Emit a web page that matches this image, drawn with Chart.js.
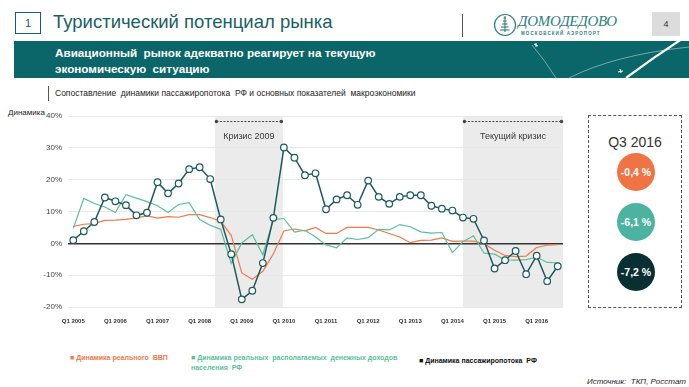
<!DOCTYPE html>
<html><head><meta charset="utf-8">
<script src="https://cdn.jsdelivr.net/npm/chart.js@4"></script>
<style>
body{margin:0;width:689px;height:387px;overflow:hidden;background:#fff;font-family:'Liberation Sans',Arial,sans-serif;position:relative}
.a{position:absolute;white-space:nowrap}
.circ{position:absolute;width:38px;height:38px;border-radius:50%;color:#fff;font-weight:bold;font-size:10.5px;line-height:38px;text-align:center}
</style></head><body>

<!-- header -->
<div class="a" style="left:15px;top:12px;width:26px;height:22px;border:1px solid #1b5e63;box-sizing:border-box;color:#1b5e63;font-size:11px;line-height:20px;text-align:center">1</div>
<div class="a" style="left:53px;top:10px;font-size:18.5px;line-height:24px;color:#1b5e63">Туристический потенциал рынка</div>
<div class="a" style="left:462px;top:14px;width:1px;height:23px;background:#555"></div>
<svg class="a" style="left:493px;top:13px" width="24" height="24" viewBox="0 0 24 24">
  <circle cx="12" cy="12" r="10.5" fill="none" stroke="#2f7f80" stroke-width="1.2"/>
  <g stroke="#2f7f80" stroke-width="1.1">
    <line x1="10.5" y1="5" x2="13" y2="5"/><line x1="10" y1="8" x2="13.5" y2="8"/>
    <line x1="9" y1="11" x2="14.5" y2="11"/><line x1="8" y1="14" x2="15.5" y2="14"/>
    <line x1="7" y1="17" x2="16.5" y2="17"/><line x1="12" y1="3" x2="12" y2="19"/>
  </g>
</svg>
<div class="a" style="left:518px;top:13px;font-family:'Liberation Serif',serif;font-style:italic;font-size:15px;line-height:17px;color:#2f7f80;letter-spacing:-0.3px">ДОМОДЕДОВО</div>
<div class="a" style="left:521px;top:31px;font-size:4.5px;font-weight:bold;letter-spacing:1.1px;color:#2f7f80">МОСКОВСКИЙ АЭРОПОРТ</div>
<div class="a" style="left:652px;top:12px;width:28px;height:24px;background:#dcdcdc;font-size:9px;line-height:24px;text-align:center;color:#333">4</div>

<div class="a" style="left:14px;top:41px;width:675px;height:37px;background:#0a6668;overflow:hidden">
  <svg style="position:absolute;left:0;top:0" width="675" height="37">
    <path d="M518 4 Q530 18 542 37" stroke="rgba(255,255,255,0.55)" stroke-width="0.8" fill="none"/>
    <path d="M555 37 Q600 14 675 6" stroke="rgba(255,255,255,0.55)" stroke-width="0.8" fill="none"/>
    <path d="M612 37 Q640 16 668 -2" stroke="#fff" stroke-width="2.2" fill="none"/>
    <path d="M520 3 l4 2 m-2 -3 l0 4" stroke="#fff" stroke-width="1" fill="none"/>
    <path d="M604 31 l5 -1 m-3 -2 l1 4" stroke="#fff" stroke-width="1" fill="none"/>
  </svg>
  <div class="a" style="left:41px;top:4px;font-weight:bold;font-size:11.7px;line-height:16px;color:#fff">Авиационный&nbsp; рынок адекватно реагирует на текущую<br>экономическую&nbsp; ситуацию</div>
</div>

<div class="a" style="left:48px;top:86px;width:1px;height:15px;background:#555"></div>
<div class="a" style="left:55px;top:88px;font-size:8.5px;line-height:10px;color:#222">Сопоставление&nbsp; динамики пассажиропотока&nbsp; РФ и основных показателей&nbsp; макроэкономики</div>

<div class="a" style="left:8px;top:108px;font-size:8px;line-height:10px;color:#222">Динамика</div>

<div class="a" style="left:0;top:100px;width:570px;height:225px"><canvas id="c" width="570" height="225"></canvas></div>

<!-- legend -->
<div class="a" style="left:70px;top:353px;font-size:7px;font-weight:bold;line-height:9px;color:#ef7a4a">■ Динамика реального&nbsp; ВВП</div>
<div class="a" style="left:191px;top:353px;font-size:7px;font-weight:bold;line-height:9.5px;color:#5bbf9e">■ Динамика реальных&nbsp; располагаемых&nbsp; денежных доходов<br>населения&nbsp; РФ</div>
<div class="a" style="left:419px;top:356px;font-size:7px;font-weight:bold;line-height:9px;color:#111">■ Динамика пассажиропотока&nbsp; РФ</div>
<div class="a" style="right:3px;top:377px;font-size:8px;font-style:italic;line-height:10px;color:#222">Источник:&nbsp; ТКП, Росстат</div>

<!-- right panel -->
<div class="a" style="left:588px;top:115px;width:94px;height:193px;border:1px dashed #555;box-sizing:border-box"></div>
<div class="a" style="left:588px;top:133px;width:94px;text-align:center;font-size:14px;line-height:18px;color:#333">Q3 2016</div>
<div id="circles"></div>

<script>
const years = [2005,2006,2007,2008,2009,2010,2011,2012,2013,2014,2015,2016];
const categories = [];
years.forEach(y => ['Q1','Q2','Q3','Q4'].forEach(q => { if (!(y === 2016 && q === 'Q4')) categories.push(q + ' ' + y); }));

// % change y/y
const gdpGrowth = [5.3,6.0,6.2,7.2, 7.3,7.5,8.0,8.6, 7.9,8.4,8.2,9.0, 9.0,8.1,6.9,2.5,
  -9.3,-11.3,-8.8,-3.3, 3.9,4.5,3.9,5.0, 3.1,3.1,5.0,5.0, 5.0,4.2,3.1,2.0,
  0.2,0.9,1.0,1.7, 0.6,0.7,0.7,-0.1, -2.2,-3.8,-4.2,-4.0, -1.3,-0.6,-0.4];
const incomeGrowth = [4.7,14.1,12.5,11.4, 9.7,15.3,14.2,13.1, 11.8,9.7,12.2,12.8, 7.5,5.7,4.4,-6.3,
  0.1,2.7,-3.6,7.5, 7.8,3.5,4.1,2.0, -0.5,-1.4,1.7,1.2, 1.8,4.4,4.2,5.9,
  5.2,3.6,3.2,3.4, -2.9,0.5,2.4,-3.1, -3.4,-5.2,-5.3,-5.1, -4.3,-6.0,-6.1];
const paxGrowth = [1.0,3.8,6.7,14.4, 13.2,12.0,8.8,9.6, 19.2,15.7,18.8,23.3, 23.9,20.2,7.5,-3.4,
  -17.6,-14.9,-6.2,8.0, 30.1,26.9,21.4,22.0, 10.7,13.8,15.1,12.1, 19.7,14.6,12.4,14.6,
  15.1,15.1,11.8,10.9, 10.3,8.1,7.7,0.9, -7.9,-5.3,-2.4,-9.7, -3.9,-11.9,-7.2];
const yTicks = [-20,-10,0,10,20,30,40];
// crisis periods in quarter-index units
const crisisNames = ['Кризис 2009','Текущий кризис'];
const crisisStart = [13.45, 37.0];
const crisisEnd = [19.9, 46.5];
const seriesColors = ['#ef7444','#4bb3a0','#0a2f32'];

const FONT = "'Liberation Sans', Arial, sans-serif";

const crisisPlugin = {
  id: 'crisis',
  beforeDraw(chart) {
    const {ctx, chartArea: a, scales: {x}} = chart;
    ctx.save();
    ctx.fillStyle = '#ebebeb';
    crisisStart.forEach((s, i) => {
      const x0 = x.getPixelForValue(s), x1 = x.getPixelForValue(crisisEnd[i]);
      ctx.fillRect(x0, a.top, x1 - x0, a.bottom - a.top);
    });
    ctx.restore();
  },
  beforeDatasetsDraw(chart) {
    const {ctx, scales: {x, y}} = chart;
    ctx.save();
    crisisStart.forEach((s, i) => {
      const x0 = x.getPixelForValue(s) + 1.5, x1 = x.getPixelForValue(crisisEnd[i]) - 1.5;
      const yl = Math.round(y.getPixelForValue(38.3)) + 0.5;
      ctx.strokeStyle = '#444'; ctx.lineWidth = 1; ctx.setLineDash([2, 1.5]);
      ctx.beginPath(); ctx.moveTo(x0, yl); ctx.lineTo(x1, yl); ctx.stroke();
      ctx.setLineDash([]); ctx.fillStyle = '#444';
      [x0, x1].forEach(px => { ctx.beginPath(); ctx.arc(px, yl, 1.7, 0, Math.PI * 2); ctx.fill(); });
      ctx.fillStyle = '#3a3a3a'; ctx.font = '9px ' + FONT;
      ctx.textAlign = 'center'; ctx.textBaseline = 'middle';
      ctx.fillText(crisisNames[i], (x0 + x1) / 2, y.getPixelForValue(33.5));
    });
    ctx.restore();
  }
};

new Chart(document.getElementById('c'), {
  type: 'line',
  data: {
    labels: categories,
    datasets: [
      { label: 'Динамика пассажиропотока РФ', data: paxGrowth, borderColor: '#1c5a5e', borderWidth: 1.5,
        pointRadius: 3.3, pointBackgroundColor: '#fff', pointBorderColor: '#1c5a5e', pointBorderWidth: 1.2, tension: 0 },
      { label: 'Динамика реальных располагаемых денежных доходов населения РФ', data: incomeGrowth,
        borderColor: '#5bbf9e', borderWidth: 1.2, pointRadius: 0, tension: 0 },
      { label: 'Динамика реального ВВП', data: gdpGrowth, borderColor: '#f07a4c', borderWidth: 1.2, pointRadius: 0, tension: 0 }
    ]
  },
  options: {
    responsive: false, animation: false, devicePixelRatio: 1,
    layout: { padding: { top: 16, right: 7, left: 0, bottom: 0 } },
    plugins: { legend: { display: false }, tooltip: { enabled: false } },
    scales: {
      x: {
        offset: true,
        afterFit: s => { s.height = 18; },
        grid: { display: false },
        border: { display: false },
        ticks: { autoSkip: false, maxRotation: 0, minRotation: 0, padding: 3, color: '#333',
          font: { size: 6, family: FONT, weight: 'bold' },
          callback: function (v, i) { return i % 4 === 0 ? this.getLabelForValue(v) : ''; } }
      },
      y: {
        min: -20, max: 40,
        afterFit: s => { s.width = 68; },
        afterBuildTicks: s => { s.ticks = yTicks.map(v => ({ value: v })); },
        border: { display: false },
        grid: { drawTicks: false, color: c => c.tick && c.tick.value === 0 ? '#333' : '#e8e8e8',
          lineWidth: c => c.tick && c.tick.value === 0 ? 1.6 : 1 },
        ticks: { padding: 6, color: '#444', font: { size: 8, family: FONT },
          callback: v => v + '%' }
      }
    }
  },
  plugins: [crisisPlugin]
});

// Q3 2016 circles from the last values
const lastValues = [gdpGrowth, incomeGrowth, paxGrowth].map(s => s[s.length - 1]);
const host = document.getElementById('circles');
lastValues.forEach((v, i) => {
  const d = document.createElement('div');
  d.className = 'circ';
  d.style.left = '617px';
  d.style.top = (153 + i * 50) + 'px';
  d.style.background = seriesColors[i];
  d.textContent = v.toFixed(1).replace('.', ',') + ' %';
  host.appendChild(d);
});
</script>
</body></html>
